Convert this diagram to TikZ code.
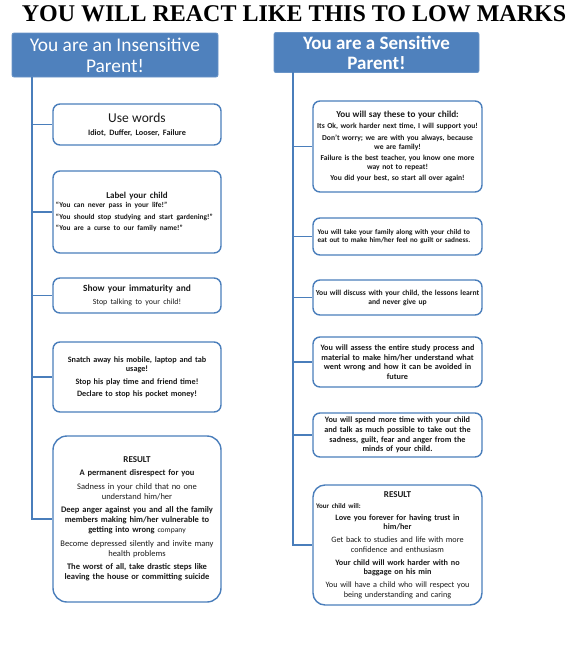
\documentclass[tikz,border=0pt]{standalone}
\usepackage{fontspec}
\setmainfont{Carlito}
\newfontfamily\titlefont{Liberation Serif}
\definecolor{hdrblue}{HTML}{4F81BD}
\definecolor{boxblue}{HTML}{4A7EBB}
\definecolor{txt}{HTML}{1A1A1A}
\newcommand{\fs}[1]{\fontsize{#1}{1.18\dimexpr#1pt\relax}\selectfont}
\begin{document}
\begin{tikzpicture}[x=1pt,y=-1pt,
  hdr/.style={draw=hdrblue!85!white, fill=hdrblue, text=white, rounded corners=2pt, line width=0.8pt, align=center, font=\fontsize{19.4}{21}\selectfont},
  card/.style={draw=boxblue, line width=1.4pt, fill=white, rounded corners=7pt, text=txt, align=center, inner sep=2pt},
  lcard/.style={card, minimum width=168pt, text width=164pt},
  rcard/.style={card, minimum width=169pt, text width=165pt},
  spine/.style={draw=boxblue, line width=1.4pt}]
\useasboundingbox (0,0) rectangle (572,670);
\node[anchor=base, font=\titlefont\bfseries\fontsize{24}{26}\selectfont] (title) at (294,21) {YOU WILL REACT LIKE THIS TO LOW MARKS};
\node[hdr, minimum width=206pt, minimum height=44pt] (hl) at (115,55) {You are an Insensitive\\Parent!};
\node[hdr, minimum width=205pt, minimum height=39pt, font=\bfseries\fontsize{19}{20}\selectfont] (hr) at (376.5,52.5) {You are a Sensitive\\Parent!};
\coordinate (ltop) at (32,77);
\coordinate (rtop) at (293,72);
% left cards
\node[lcard, minimum height=41pt] (L1) at (137,124.5) {{\fs{13.5}Use words}\\[1pt]{\fs{8.2}\bfseries Idiot, Duffer, Looser, Failure}};
\node[lcard, minimum height=82pt] (L2) at (137,212) {{\fs{9}\bfseries Label your child}\\[1pt]
  \parbox{162pt}{\raggedright\fs{7.4}\bfseries ``You can never pass in your life!''\\[3pt]``You should stop studying and start gardening!''\\[3pt]``You are a curse to our family name!''}};
\node[lcard, minimum height=35pt] (L3) at (137,295.5) {{\fs{9.4}\bfseries Show your immaturity and}\\[1pt]{\fs{7.9}Stop talking to your child!}};
\node[lcard, minimum height=70pt, font=\fs{8.2}\bfseries] (L4) at (137,377) {Snatch away his mobile, laptop and tab\\usage!\\[2.5pt]Stop his play time and friend time!\\[2.5pt]Declare to stop his pocket money!};
\node[lcard, minimum height=166pt, rounded corners=14pt, font=\fs{8.5}] (L5) at (137,519) {{\fs{9}\bfseries RESULT}\\[3pt]
  {\bfseries A permanent disrespect for you}\\[3.5pt]
  Sadness in your child that no one\\understand him/her\\[3.5pt]
  {\bfseries Deep anger against you and all the family\\members making him/her vulnerable to\\getting into wrong} {\fs{7.6}company}\\[3.5pt]
  Become depressed silently and invite many\\health problems\\[3.5pt]
  {\bfseries The worst of all, take drastic steps like\\leaving the house or committing suicide}};
% right cards
\node[rcard, minimum height=91pt, font=\fs{7.6}\bfseries] (R1) at (397.5,146.5) {{\fs{9.2}You will say these to your child:}\\[2.5pt]
  Its Ok, work harder next time, I will support you!\\[2.5pt]
  Don't worry; we are with you always, because\\we are family!\\[2.5pt]
  Failure is the best teacher, you know one more\\way not to repeat!\\[2.5pt]
  You did your best, so start all over again!};
\node[rcard, minimum height=37pt, font=\fs{7.2}\bfseries] (R2) at (397.5,236.5) {\parbox{160pt}{\raggedright You will take your family along with your child to\\eat out to make him/her feel no guilt or sadness.}};
\node[rcard, minimum height=35pt, font=\fs{7.6}\bfseries] (R3) at (397.5,297.5) {You will discuss with your child, the lessons learnt\\and never give up};
\node[rcard, minimum height=50pt, font=\fs{8.2}\bfseries] (R4) at (397.5,362) {You will assess the entire study process and\\material to make him/her understand what\\went wrong and how it can be avoided in\\future};
\node[rcard, minimum height=44pt, font=\fs{8.2}\bfseries] (R5) at (397.5,435) {You will spend more time with your child\\and talk as much possible to take out the\\sadness, guilt, fear and anger from the\\minds of your child.};
\node[rcard, minimum height=120pt, rounded corners=12pt, font=\fs{8.2}] (R6) at (397.5,545) {{\fs{9}\bfseries RESULT}\\[0.5pt]
  \parbox{163pt}{\raggedright\fs{7}\bfseries Your child will:}\\[3pt]
  {\bfseries Love you forever for having trust in\\him/her}\\[3pt]
  Get back to studies and life with more\\confidence and enthusiasm\\[3pt]
  {\bfseries Your child will work harder with no\\baggage on his min}\\[3pt]
  You will have a child who will respect you\\being understanding and caring};
% connectors
\draw[spine] (ltop) |- (L5.west);
\foreach \n in {L1,L2,L3,L4} \draw[spine] (ltop |- \n.west) -- (\n.west);
\draw[spine] (rtop) |- (R6.west);
\foreach \n in {R1,R2,R3,R4,R5} \draw[spine] (rtop |- \n.west) -- (\n.west);
\end{tikzpicture}
\end{document}
